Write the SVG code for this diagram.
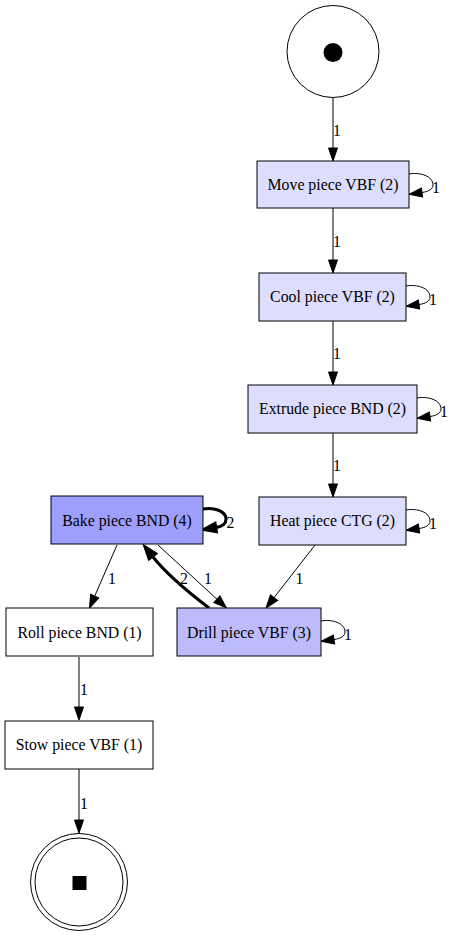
<svg xmlns="http://www.w3.org/2000/svg" width="455" height="936" viewBox="0 0 455 936">
<defs>
<style>
text{font-family:"Liberation Serif","Times New Roman",serif;font-size:15.8px;fill:#000}
.lbl{text-anchor:middle}
.box{stroke:#000;stroke-width:1}
.c1{fill:#ddddfd}.c2{fill:#bcbcfc}.c3{fill:#9e9efc}.c0{fill:#ffffff}
.e{fill:none;stroke:#000;stroke-width:1;marker-end:url(#ah)}
.et{fill:none;stroke:#000;stroke-width:3;marker-end:url(#aht)}
</style>
<marker id="ah" markerUnits="userSpaceOnUse" viewBox="0 0 13 9" refX="0" refY="4.5" markerWidth="13" markerHeight="9" orient="auto" overflow="visible">
<path d="M0,0 L13,4.5 L0,9 Z" fill="#000" stroke="#000" stroke-width="1"/>
</marker>
<marker id="aht" markerUnits="userSpaceOnUse" viewBox="0 0 13 9" refX="0" refY="4.5" markerWidth="13" markerHeight="9" orient="auto" overflow="visible">
<path d="M0,0 L13,4.5 L0,9 Z" fill="#000" stroke="#000" stroke-width="2.5" stroke-linejoin="miter"/>
</marker>
</defs>
<rect x="0" y="0" width="455" height="936" fill="#fff"/>
<g id="connectors">
<path class="e" d="M333,98 L333,148"/>
<text x="337" y="136" class="lbl">1</text>
<path class="e" d="M333,208 L333,260"/>
<text x="337" y="247" class="lbl">1</text>
<path class="e" d="M333,321 L333,372"/>
<text x="337" y="359" class="lbl">1</text>
<path class="e" d="M333,433 L333,484"/>
<text x="337" y="471" class="lbl">1</text>
<path class="e" d="M315,545 L274,597.7"/>
<text x="299.5" y="584" class="lbl">1</text>
<path class="e" d="M158,545 L216.9,599.2"/>
<text x="208" y="584" class="lbl">1</text>
<path class="et" d="M209,608 C188,592 168,576 152.6,556.5"/>
<text x="184" y="584" class="lbl">2</text>
<path class="e" d="M117,545 L94.7,596.1"/>
<text x="112" y="584" class="lbl">1</text>
<path class="e" d="M79,657 L79,707"/>
<text x="84" y="695" class="lbl">1</text>
<path class="e" d="M79,769 L79,820"/>
<text x="84" y="809" class="lbl">1</text>
<!-- self loops -->
<path class="e" d="M409,174 C420,172 433,176 433,185 C433,189 429,191.5 422,192.5"/>
<text x="432" y="193">1</text>
<path class="e" d="M406,286 C417,284 430,288 430,297 C430,301 426,303.5 419,304.5"/>
<text x="429" y="305">1</text>
<path class="e" d="M417,398 C428,396 441,400 441,409 C441,413 437,415.5 430,416.5"/>
<text x="440" y="417">1</text>
<path class="e" d="M406,510 C417,508 430,512 430,521 C430,525 426,527.5 419,528.5"/>
<text x="429" y="529">1</text>
<path class="e" d="M321,621 C332,619 345,623 345,632 C345,636 341,638.5 334,639.5"/>
<text x="344" y="640">1</text>
<path class="et" d="M203,509 C214,507 226,511 226,519 C226,524 222,526.5 216,527.5"/>
<text x="226.5" y="528">2</text>
</g>
<g id="start">
<circle cx="333" cy="51.5" r="46" fill="#fff" stroke="#000"/>
<circle cx="333" cy="52.5" r="9.5" fill="#000"/>
</g>
<g id="move"><rect class="box c1" x="257" y="161" width="152" height="47"/><text x="333" y="190" class="lbl">Move piece VBF (2)</text></g>
<g id="cool"><rect class="box c1" x="259" y="273" width="147" height="48"/><text x="332.5" y="302" class="lbl">Cool piece VBF (2)</text></g>
<g id="extrude"><rect class="box c1" x="248" y="385" width="169" height="48"/><text x="332.5" y="414" class="lbl">Extrude piece BND (2)</text></g>
<g id="heat"><rect class="box c1" x="259" y="497" width="147" height="48"/><text x="332.5" y="526" class="lbl">Heat piece CTG (2)</text></g>
<g id="bake"><rect class="box c3" x="51" y="496" width="152" height="48"/><text x="127" y="525.5" class="lbl">Bake piece BND (4)</text></g>
<g id="roll"><rect class="box c0" x="6" y="608" width="147" height="48"/><text x="79.5" y="637.5" class="lbl">Roll piece BND (1)</text></g>
<g id="drill"><rect class="box c2" x="177" y="608" width="144" height="48"/><text x="249" y="637.5" class="lbl">Drill piece VBF (3)</text></g>
<g id="stow"><rect class="box c0" x="5" y="721" width="148" height="48"/><text x="79" y="750" class="lbl">Stow piece VBF (1)</text></g>
<g id="end">
<circle cx="79" cy="882" r="48.5" fill="#fff" stroke="#000"/>
<circle cx="79" cy="882" r="44" fill="none" stroke="#000"/>
<rect x="72.5" y="876" width="14" height="14" fill="#000"/>
</g>
</svg>
